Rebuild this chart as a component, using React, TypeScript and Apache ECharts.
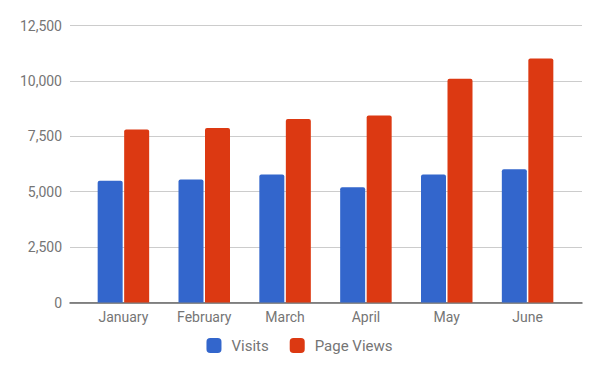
import React, { useEffect, useRef } from "react";
import * as echarts from "echarts";

const categories = ["January", "February", "March", "April", "May", "June"];
const visits = [5490, 5550, 5780, 5200, 5780, 6010];
const pageViews = [7810, 7880, 8280, 8440, 10100, 11010];
const yMin = 0;
const yMax = 12500;
const yInterval = 2500;

const textColor = "#757575";
const font = "Roboto, Arial, sans-serif";

export default function App() {
  const ref = useRef<HTMLDivElement>(null);
  useEffect(() => {
    if (!ref.current) return;
    const chart = echarts.init(ref.current, undefined, { renderer: "svg" });
    chart.setOption({
      animation: false,
      backgroundColor: "#ffffff",
      textStyle: { fontFamily: font },
      grid: [
        { left: 83, right: 31, top: 25.5, bottom: 67.5 },
        { left: 70, right: 17, top: 25.5, bottom: 67.5 },
      ],
      legend: {
        data: ["Visits", "Page Views"],
        left: "center",
        top: 338,
        padding: 0,
        itemWidth: 15,
        itemHeight: 15,
        itemGap: 21,
        icon: "roundRect",
        textStyle: {
          color: textColor,
          fontSize: 15,
          fontFamily: font,
          padding: [0, 0, 0, 5],
        },
      },
      xAxis: [
        {
          type: "category",
          gridIndex: 0,
          data: categories,
          axisLine: { show: false },
          axisTick: { show: false },
          axisLabel: {
            color: textColor,
            fontSize: 14,
            fontFamily: font,
            margin: 7,
          },
        },
        {
          type: "value",
          gridIndex: 1,
          min: 0,
          max: 1,
          axisLine: {
            show: true,
            onZero: false,
            lineStyle: { color: "#666666", width: 1.5 },
          },
          axisTick: { show: false },
          axisLabel: { show: false },
          splitLine: { show: false },
        },
      ],
      yAxis: [
        {
          type: "value",
          gridIndex: 0,
          min: yMin,
          max: yMax,
          interval: yInterval,
          axisLine: { show: false },
          axisTick: { show: false },
          axisLabel: { show: false },
          splitLine: { show: false },
        },
        {
          type: "value",
          gridIndex: 1,
          min: yMin,
          max: yMax,
          interval: yInterval,
          axisLine: { show: false },
          axisTick: { show: false },
          axisLabel: {
            color: textColor,
            fontSize: 14,
            fontFamily: font,
            margin: 8,
            formatter: (v: number) => v.toLocaleString("en-US"),
          },
          splitLine: { show: true, lineStyle: { color: "#cccccc", width: 1 } },
        },
      ],
      series: [
        {
          name: "Visits",
          type: "bar",
          xAxisIndex: 0,
          yAxisIndex: 0,
          data: visits,
          barWidth: 25,
          barGap: "6%",
          itemStyle: { color: "#3366cc", borderRadius: [2, 2, 0, 0] },
          z: 3,
        },
        {
          name: "Page Views",
          type: "bar",
          xAxisIndex: 0,
          yAxisIndex: 0,
          data: pageViews,
          barWidth: 25,
          barGap: "6%",
          itemStyle: { color: "#dc3912", borderRadius: [2, 2, 0, 0] },
          z: 3,
        },
      ],
    });
    return () => chart.dispose();
  }, []);
  return <div ref={ref} style={{ width: 599, height: 370, position: "absolute", left: 0, top: 0 }} />;
}
